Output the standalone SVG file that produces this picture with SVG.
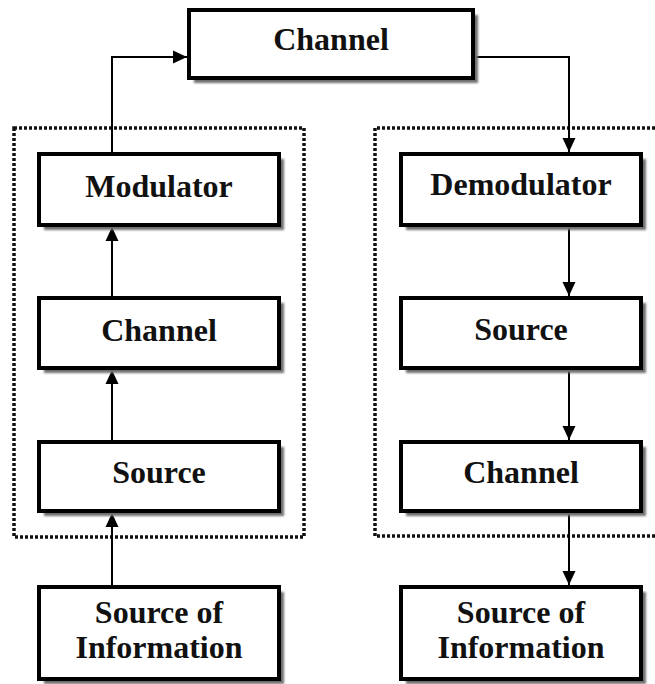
<svg xmlns="http://www.w3.org/2000/svg" width="655" height="684" viewBox="0 0 655 684">
  <style>
    .box { fill: #ffffff; stroke: #000000; stroke-width: 4; }
    .shadow { fill: #6e6e6e; filter: url(#blur); }
    .lbl { font-family: "Liberation Serif", "Times New Roman", serif; font-weight: bold; font-size: 32px; fill: #111111; text-anchor: middle; }
    .conn { fill: none; stroke: #000000; stroke-width: 2; marker-end: url(#arrow); }
    .dots { fill: none; stroke: #111111; stroke-width: 3.5; stroke-dasharray: 3 2; }
  </style>
  <defs>
    <filter id="blur" x="-10%" y="-10%" width="120%" height="120%">
      <feGaussianBlur stdDeviation="1.2"/>
    </filter>
    <marker id="arrow" markerUnits="userSpaceOnUse" markerWidth="15" markerHeight="15" viewBox="0 0 15 15" refX="14" refY="7.5" orient="auto">
      <path d="M0,1 L14,7.5 L0,14 Z" fill="#000000"/>
    </marker>
  </defs>
  <rect width="655" height="684" fill="#ffffff"/>

  <g id="groups">
    <rect id="tx-group" class="dots" x="14" y="128" width="290" height="409"/>
    <path id="rx-group" class="dots" d="M660 128 H375 V536 H660"/>
  </g>

  <g id="connectors">
    <path class="conn" d="M112 152 V57 H187"/>
    <path class="conn" d="M475 57 H569 V152"/>
    <path class="conn" d="M112 585 V513"/>
    <path class="conn" d="M112 440 V370"/>
    <path class="conn" d="M112 296 V227"/>
    <path class="conn" d="M569 227 V296"/>
    <path class="conn" d="M569 370 V440"/>
    <path class="conn" d="M569 513 V585"/>
  </g>

  <g id="channel-top">
    <rect class="shadow" x="194" y="15" width="284" height="68"/>
    <rect class="box" x="189" y="10" width="284" height="68"/>
    <text class="lbl" x="331" y="50">Channel</text>
  </g>

  <g id="modulator">
    <rect class="shadow" x="44" y="159" width="240" height="71"/>
    <rect class="box" x="39" y="154" width="240" height="71"/>
    <text class="lbl" x="159" y="197">Modulator</text>
  </g>
  <g id="channel-left">
    <rect class="shadow" x="44" y="303" width="240" height="70"/>
    <rect class="box" x="39" y="298" width="240" height="70"/>
    <text class="lbl" x="159" y="341">Channel</text>
  </g>
  <g id="source-left">
    <rect class="shadow" x="44" y="447" width="240" height="69"/>
    <rect class="box" x="39" y="442" width="240" height="69"/>
    <text class="lbl" x="159" y="483">Source</text>
  </g>
  <g id="info-left">
    <rect class="shadow" x="44" y="592" width="240" height="92"/>
    <rect class="box" x="39" y="587" width="240" height="92"/>
    <text class="lbl" x="159" y="623">Source of</text>
    <text class="lbl" x="159" y="658">Information</text>
  </g>

  <g id="demodulator">
    <rect class="shadow" x="406" y="159" width="240" height="71"/>
    <rect class="box" x="401" y="154" width="240" height="71"/>
    <text class="lbl" x="521" y="195">Demodulator</text>
  </g>
  <g id="source-right">
    <rect class="shadow" x="406" y="303" width="240" height="70"/>
    <rect class="box" x="401" y="298" width="240" height="70"/>
    <text class="lbl" x="521" y="340">Source</text>
  </g>
  <g id="channel-right">
    <rect class="shadow" x="406" y="447" width="240" height="69"/>
    <rect class="box" x="401" y="442" width="240" height="69"/>
    <text class="lbl" x="521" y="483">Channel</text>
  </g>
  <g id="info-right">
    <rect class="shadow" x="406" y="592" width="240" height="92"/>
    <rect class="box" x="401" y="587" width="240" height="92"/>
    <text class="lbl" x="521" y="623">Source of</text>
    <text class="lbl" x="521" y="658">Information</text>
  </g>
</svg>
